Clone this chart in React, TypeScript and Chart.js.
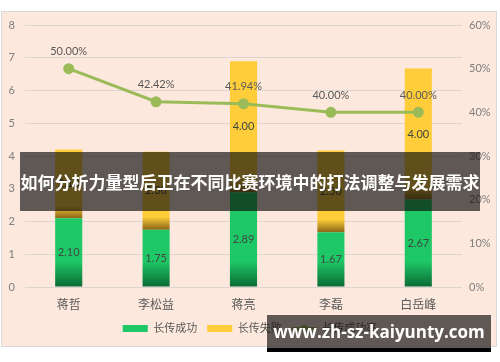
import React, { useEffect, useRef } from "react";
import { Chart, registerables } from "chart.js";

Chart.register(...registerables);

const categories = ["蒋哲", "李松益", "蒋亮", "李磊", "白岳峰"];
const successValues = [2.1, 1.75, 2.89, 1.67, 2.67];
const failValues = [2.1, 2.38, 4.0, 2.5, 4.0];
const rateValues = [50.0, 42.42, 41.94, 40.0, 40.0];
const leftTicks = [0, 1, 2, 3, 4, 5, 6, 7, 8];
const rightTicks = [0, 10, 20, 30, 40, 50, 60];

const FONT = 'Lato, "Noto Sans CJK SC", sans-serif';
const GREEN = "#1ec866";
const GREEN_DARK = "#0b6a34";
const YELLOW = "#ffcd3a";
const YELLOW_DARK = "#8a6618";
const LINE = "#9bbb59";

const labelPlugin = {
  id: "valueLabels",
  afterDatasetsDraw(chart: any) {
    const ctx = chart.ctx;
    ctx.save();
    ctx.textAlign = "center";
    ctx.textBaseline = "middle";
    chart.data.datasets.forEach((ds: any, di: number) => {
      const meta = chart.getDatasetMeta(di);
      meta.data.forEach((el: any, i: number) => {
        const v = ds.data[i];
        if (ds.type === "line") {
          ctx.font = `11px ${FONT}`;
          ctx.fillStyle = "#595959";
          ctx.fillText(v.toFixed(2) + "%", el.x, el.y - 17);
        } else {
          ctx.font = `11px ${FONT}`;
          ctx.fillStyle = "#3d4a42";
          const cy = (el.y + el.base) / 2;
          ctx.fillText(v.toFixed(2), el.x, cy);
        }
      });
    });
    ctx.restore();
  },
};

const legendDotPlugin = {
  id: "legendDot",
  afterDraw(chart: any) {
    const lg = chart.legend;
    if (!lg || !lg.legendHitBoxes) return;
    const idx = lg.legendItems.findIndex((it: any) => it.pointStyle === "line");
    if (idx < 0) return;
    const hb = lg.legendHitBoxes[idx];
    const ctx = chart.ctx;
    ctx.save();
    ctx.fillStyle = LINE;
    ctx.beginPath();
    ctx.arc(hb.left + 12.5, hb.top + hb.height / 2, 3.5, 0, Math.PI * 2);
    ctx.fill();
    ctx.restore();
  },
};

function makeGrad(ctx: any, bottom: number, dark: string, light: string, len: number) {
  const g = ctx.chart.ctx.createLinearGradient(0, bottom, 0, bottom - len);
  g.addColorStop(0, dark);
  g.addColorStop(1, light);
  return g;
}

export default function App() {
  const ref = useRef<HTMLCanvasElement>(null);
  useEffect(() => {
    if (!ref.current) return;
    const chart = new Chart(ref.current, {
      type: "bar",
      data: {
        labels: categories,
        datasets: [
          {
            type: "line",
            label: "长传成功率",
            data: rateValues,
            yAxisID: "y1",
            borderColor: LINE,
            backgroundColor: LINE,
            borderWidth: 3,
            pointRadius: 4,
            pointBackgroundColor: LINE,
            pointBorderColor: LINE,
            order: 0,
          } as any,
          {
            type: "bar",
            label: "长传成功",
            data: successValues,
            yAxisID: "y",
            stack: "s",
            backgroundColor: (c: any) => {
              if (!c.chart.chartArea) return GREEN;
              const base = c.chart.scales.y.getPixelForValue(0);
              return makeGrad(c, base, GREEN_DARK, GREEN, 26);
            },
            categoryPercentage: 1,
            barPercentage: 0.31,
            order: 1,
          } as any,
          {
            type: "bar",
            label: "长传失败",
            data: failValues,
            yAxisID: "y",
            stack: "s",
            backgroundColor: (c: any) => {
              if (!c.chart.chartArea) return YELLOW;
              const base = c.chart.scales.y.getPixelForValue(successValues[c.dataIndex] || 0);
              return makeGrad(c, base, YELLOW_DARK, YELLOW, 13);
            },
            categoryPercentage: 1,
            barPercentage: 0.31,
            order: 2,
          } as any,
        ],
      },
      options: {
        animation: false,
        responsive: false,
        maintainAspectRatio: false,
        layout: { padding: { left: 0, right: 0, top: 25, bottom: 18 } },
        plugins: {
          tooltip: { enabled: false },
          legend: {
            position: "bottom",
            labels: {
              usePointStyle: true,
              pointStyleWidth: 25,
              boxHeight: 7,
              padding: 10,
              color: "#595959",
              font: { size: 11, family: FONT },
              generateLabels: (ch: any) => {
                const order = [1, 2, 0];
                return order.map((i) => {
                  const ds = ch.data.datasets[i];
                  const isLine = ds.type === "line";
                  return {
                    text: ds.label,
                    fillStyle: isLine ? LINE : i === 1 ? GREEN : YELLOW,
                    strokeStyle: isLine ? LINE : "transparent",
                    lineWidth: isLine ? 3 : 0,
                    pointStyle: isLine ? "line" : "rect",
                    fontColor: "#595959",
                    datasetIndex: i,
                    hidden: false,
                  };
                });
              },
            },
          },
        },
        scales: {
          x: {
            grid: { display: false },
            border: { display: false },
            ticks: { color: "#595959", font: { size: 12, family: FONT }, padding: 3 },
            afterFit: (s: any) => {
              s.height = 26;
            },
          },
          y: {
            position: "left",
            min: 0,
            max: 8,
            stacked: true,
            afterBuildTicks: (s: any) => {
              s.ticks = leftTicks.map((v) => ({ value: v }));
            },
            grid: { color: "#dcd5d0", drawTicks: false },
            border: { display: false },
            ticks: { color: "#7f7f7f", font: { size: 11, family: FONT }, padding: 10 },
            afterFit: (s: any) => {
              s.width = 25;
            },
          },
          y1: {
            position: "right",
            min: 0,
            max: 60,
            afterBuildTicks: (s: any) => {
              s.ticks = rightTicks.map((v) => ({ value: v }));
            },
            grid: { display: false, drawTicks: false },
            border: { display: false },
            ticks: {
              color: "#7f7f7f",
              font: { size: 11, family: FONT },
              padding: 7,
              callback: (v: any) => v + "%",
            },
            afterFit: (s: any) => {
              s.width = 38;
            },
          },
        },
      },
      plugins: [labelPlugin, legendDotPlugin],
    });
    return () => chart.destroy();
  }, []);

  return (
    <div style={{ position: "fixed", left: 0, top: 0, width: 500, height: 362, background: "#ffffff", overflow: "hidden" }}>
      <div
        style={{
          position: "absolute",
          left: 1,
          top: 11,
          width: 494,
          height: 334,
          background: "#fce8dc",
          border: "1px solid #d9d9d9",
        }}
      />
      <canvas ref={ref} width={500} height={362} style={{ position: "absolute", left: 0, top: 0, width: 500, height: 362 }} />
      <div
        style={{
          position: "absolute",
          left: 20,
          top: 152,
          width: 460,
          height: 59,
          background: "rgba(12,10,10,0.65)",
          color: "#ffffff",
          fontFamily: '"Noto Sans CJK SC", sans-serif',
          fontWeight: 700,
          fontSize: 17,
          lineHeight: "59px",
          textAlign: "center",
          whiteSpace: "nowrap",
          letterSpacing: "0px",
        }}
      >
        如何分析力量型后卫在不同比赛环境中的打法调整与发展需求
      </div>
      <div
        style={{
          position: "absolute",
          left: 267,
          top: 315,
          width: 224,
          height: 33,
          background: "rgba(12,10,10,0.65)",
          borderBottom: "4px solid #000000",
          color: "#ffffff",
          fontFamily: '"Open Sans", "DejaVu Sans", sans-serif',
          fontWeight: 700,
          fontSize: 17,
          lineHeight: "33px",
          textAlign: "center",
          whiteSpace: "nowrap",
        }}
      >
        www.zh-sz-kaiyunty.com
      </div>
    </div>
  );
}
